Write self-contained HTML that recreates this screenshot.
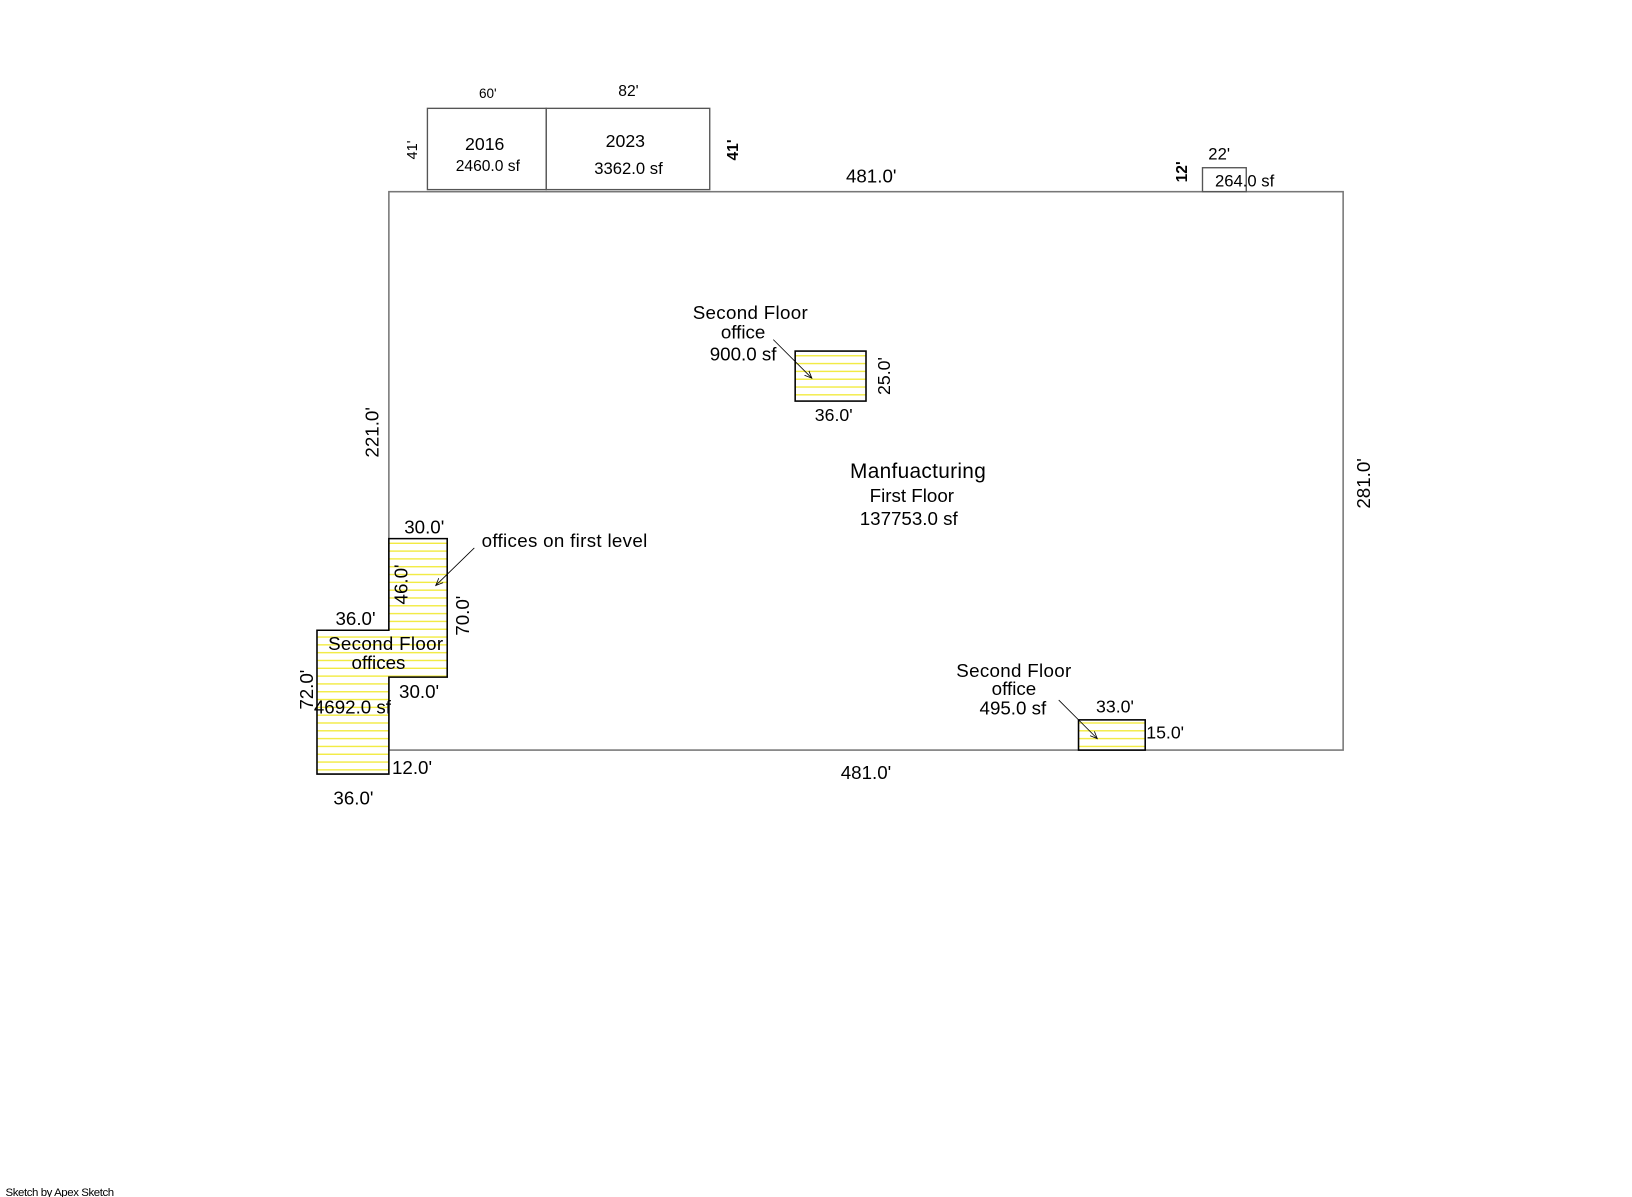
<!DOCTYPE html>
<html><head><style>
html,body{margin:0;padding:0;background:#fff;}
svg{display:block;}
text{font-family:"Liberation Sans",sans-serif;fill:#000;}
.n{font-family:"Liberation Sans Narrow","Liberation Sans",sans-serif;}
</style></head><body>
<svg width="1632" height="1197" viewBox="0 0 1566 1149" xmlns="http://www.w3.org/2000/svg">
<defs>
<pattern id="h" width="10" height="7.5" patternUnits="userSpaceOnUse">
<rect width="10" height="7.5" fill="#fff"/>
<line x1="0" y1="4" x2="10" y2="4" stroke="#f2ea3a" stroke-width="1.3"/>
</pattern>
<marker id="a" markerWidth="8" markerHeight="8" refX="7" refY="4" orient="auto" markerUnits="userSpaceOnUse">
<path d="M0,1 L7,4 L0,7" fill="none" stroke="#000" stroke-width="0.8"/>
</marker>
</defs>
<rect x="373" y="184" width="916" height="536" fill="none" stroke="#777" stroke-width="1.5"/>
<rect x="410" y="104" width="114" height="78" fill="none" stroke="#555" stroke-width="1.3"/>
<rect x="524" y="104" width="157" height="78" fill="none" stroke="#555" stroke-width="1.3"/>
<rect x="1154" y="161" width="42" height="23" fill="none" stroke="#555" stroke-width="1.3"/>
<path d="M373,517 L429,517 L429,650 L373,650 L373,743 L304,743 L304,605 L373,605 Z" fill="url(#h)" stroke="#000" stroke-width="1.5"/>
<rect x="763" y="337" width="68" height="48" fill="url(#h)" stroke="#000" stroke-width="1.5"/>
<rect x="1035" y="691" width="64" height="29" fill="url(#h)" stroke="#000" stroke-width="1.5"/>
<line x1="742" y1="326" x2="779" y2="363" stroke="#000" stroke-width="0.8" marker-end="url(#a)"/>
<line x1="455" y1="526" x2="418" y2="562" stroke="#000" stroke-width="0.8" marker-end="url(#a)"/>
<line x1="1016" y1="672" x2="1053" y2="709" stroke="#000" stroke-width="0.8" marker-end="url(#a)"/>
<text class="n" x="468" y="94" font-size="13" text-anchor="middle">60'</text>
<text class="n" x="603" y="92" font-size="15" text-anchor="middle">82'</text>
<text x="0" y="0" font-size="14" text-anchor="middle" transform="translate(400,144) rotate(-90)">41'</text>
<text x="0" y="0" font-size="15" font-weight="bold" text-anchor="middle" transform="translate(708,144) rotate(-90)">41'</text>
<text class="n" x="465" y="144" font-size="17" text-anchor="middle">2016</text>
<text class="n" x="468" y="164" font-size="15" text-anchor="middle">2460.0 sf</text>
<text class="n" x="600" y="141" font-size="17" text-anchor="middle">2023</text>
<text class="n" x="603" y="167" font-size="16" text-anchor="middle">3362.0 sf</text>
<text x="836" y="175" font-size="18" text-anchor="middle">481.0'</text>
<text x="0" y="0" font-size="15" font-weight="bold" text-anchor="middle" transform="translate(1139,165) rotate(-90)">12'</text>
<text x="1170" y="153" font-size="16" text-anchor="middle">22'</text>
<text x="1166" y="179" font-size="16">264.0 sf</text>
<text x="720" y="306" font-size="18" text-anchor="middle" letter-spacing="0.3">Second Floor</text>
<text x="713" y="325" font-size="18" text-anchor="middle">office</text>
<text x="713" y="346" font-size="18" text-anchor="middle">900.0 sf</text>
<text x="0" y="0" font-size="17" text-anchor="middle" transform="translate(854,361) rotate(-90)">25.0'</text>
<text x="800" y="404" font-size="17" text-anchor="middle">36.0'</text>
<text x="0" y="0" font-size="18" text-anchor="middle" transform="translate(363,415) rotate(-90)">221.0'</text>
<text x="0" y="0" font-size="18" text-anchor="middle" transform="translate(1315,464) rotate(-90)">281.0'</text>
<text x="881" y="459" font-size="20" text-anchor="middle" letter-spacing="0.3">Manfuacturing</text>
<text x="875" y="482" font-size="18" text-anchor="middle">First Floor</text>
<text x="872" y="504" font-size="18" text-anchor="middle">137753.0 sf</text>
<text x="407" y="512" font-size="18" text-anchor="middle">30.0'</text>
<text x="462" y="525" font-size="18" letter-spacing="0.3">offices on first level</text>
<text x="0" y="0" font-size="18" text-anchor="middle" transform="translate(391,561) rotate(-90)">46.0'</text>
<text x="0" y="0" font-size="18" text-anchor="middle" transform="translate(450,591) rotate(-90)">70.0'</text>
<text x="341" y="600" font-size="18" text-anchor="middle">36.0'</text>
<text x="370" y="624" font-size="18" text-anchor="middle" letter-spacing="0.3">Second Floor</text>
<text x="363" y="642" font-size="18" text-anchor="middle">offices</text>
<text x="0" y="0" font-size="18" text-anchor="middle" transform="translate(300,662) rotate(-90)">72.0'</text>
<text x="402" y="670" font-size="18" text-anchor="middle">30.0'</text>
<text x="301" y="685" font-size="18">4692.0 sf</text>
<text x="376" y="743" font-size="18">12.0'</text>
<text x="339" y="772" font-size="18" text-anchor="middle">36.0'</text>
<text x="831" y="748" font-size="18" text-anchor="middle">481.0'</text>
<text x="973" y="650" font-size="18" text-anchor="middle" letter-spacing="0.3">Second Floor</text>
<text x="973" y="667" font-size="18" text-anchor="middle">office</text>
<text x="972" y="686" font-size="18" text-anchor="middle">495.0 sf</text>
<text x="1070" y="684" font-size="17" text-anchor="middle">33.0'</text>
<text x="1100" y="709" font-size="17">15.0'</text>
<text x="5" y="1148" font-size="11" letter-spacing="-0.4">Sketch by Apex Sketch</text>
</svg>
</body></html>
